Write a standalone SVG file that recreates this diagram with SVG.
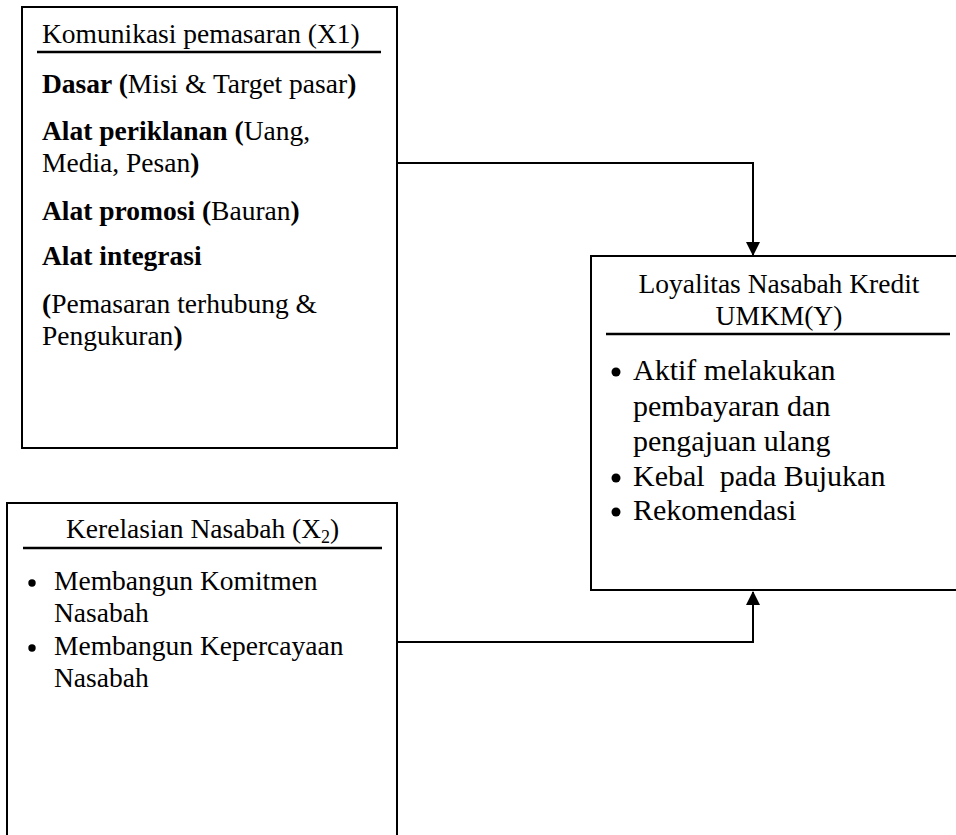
<svg xmlns="http://www.w3.org/2000/svg" width="956" height="835" viewBox="0 0 956 835">
<style>
.box{fill:#fff;stroke:#000;stroke-width:2}
.rule{stroke:#000;stroke-width:2.5}
.t{font-size:27.5px;fill:#000}
.t2{font-size:30px;fill:#000}
.b{font-weight:bold}
.dot{fill:#000}
.conn{fill:none;stroke:#000;stroke-width:2}
</style>
<defs>
<marker id="arr" markerUnits="userSpaceOnUse" markerWidth="16" markerHeight="14" viewBox="0 0 14 14" refX="13" refY="7" orient="auto">
<path d="M0,0 L14,7 L0,14 Z" fill="#000"/>
</marker>
</defs>
<rect width="956" height="835" fill="#fff"/>
<g id="connectors">
<path class="conn" d="M397,163 H753 V255" marker-end="url(#arr)"/>
<path class="conn" d="M397,642 H753 V592" marker-end="url(#arr)"/>
</g>
<g font-family="'Liberation Serif', 'Times New Roman', 'DejaVu Serif', serif">
<g id="node-x1">
<rect class="box" x="22" y="7" width="375" height="441"/>
<text class="t" x="42" y="43">Komunikasi pemasaran (X1)</text>
<line class="rule" x1="37" y1="52" x2="381" y2="52"/>
<text class="t" x="42" y="93"><tspan class="b">Dasar (</tspan>Misi &amp; Target pasar<tspan class="b">)</tspan></text>
<text class="t" x="42" y="140"><tspan class="b">Alat periklanan (</tspan>Uang,</text>
<text class="t" x="42" y="172">Media, Pesan<tspan class="b">)</tspan></text>
<text class="t" x="42" y="220"><tspan class="b">Alat promosi (</tspan>Bauran<tspan class="b">)</tspan></text>
<text class="t b" x="42" y="265">Alat integrasi</text>
<text class="t" x="42" y="313"><tspan class="b">(</tspan>Pemasaran terhubung &amp;</text>
<text class="t" x="42" y="345">Pengukuran<tspan class="b">)</tspan></text>
</g>
<g id="node-x2">
<rect class="box" x="7" y="503" width="390" height="345"/>
<text class="t" x="66" y="538">Kerelasian Nasabah (X<tspan font-size="18" dy="5">2</tspan><tspan dy="-5">)</tspan></text>
<line class="rule" x1="23" y1="548" x2="382" y2="548"/>
<circle class="dot" cx="32" cy="583" r="3.7"/>
<text class="t" x="54" y="590">Membangun Komitmen</text>
<text class="t" x="54" y="622">Nasabah</text>
<circle class="dot" cx="32" cy="648" r="3.7"/>
<text class="t" x="54" y="655">Membangun Kepercayaan</text>
<text class="t" x="54" y="687">Nasabah</text>
</g>
<g id="node-y">
<rect class="box" x="591" y="256" width="375" height="334"/>
<text class="t" x="779" y="293" text-anchor="middle">Loyalitas Nasabah Kredit</text>
<text class="t" x="779" y="325" text-anchor="middle">UMKM(Y)</text>
<line class="rule" x1="606" y1="334" x2="950" y2="334"/>
<circle class="dot" cx="616" cy="372" r="4.5"/>
<text class="t2" x="633" y="380">Aktif melakukan</text>
<text class="t2" x="633" y="416">pembayaran dan</text>
<text class="t2" x="633" y="451">pengajuan ulang</text>
<circle class="dot" cx="616" cy="478" r="4.5"/>
<text class="t2" x="633" y="486" xml:space="preserve">Kebal  pada Bujukan</text>
<circle class="dot" cx="616" cy="512" r="4.5"/>
<text class="t2" x="633" y="520">Rekomendasi</text>
</g>
</g>
</svg>
